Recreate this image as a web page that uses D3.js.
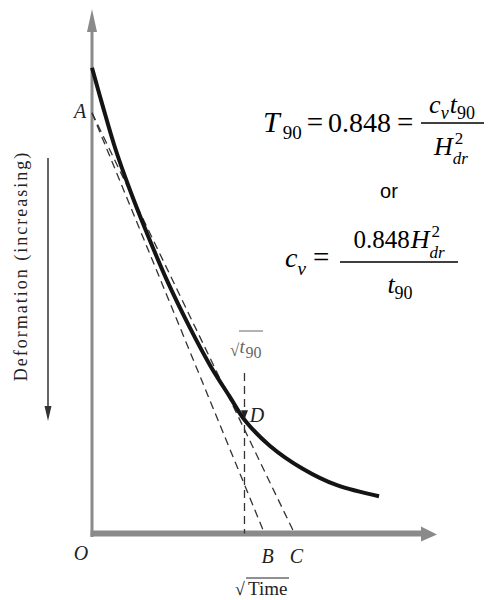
<!DOCTYPE html>
<html>
<head>
<meta charset="utf-8">
<script src="https://cdn.jsdelivr.net/npm/d3@7"></script>
<style>
  body { margin: 0; background: #fff; }
  svg { display: block; }
</style>
</head>
<body>
<svg id="chart" width="488" height="600"></svg>
<script>
// values (sqrt(time) to the right, deformation increasing downward)
const sqrtTime    = [0, 0.32, 0.67, 1.10, 1.59, 2.17, 2.84, 3.42, 4.00, 4.43, 5.16, 6.12, 7.10, 8.32];
const deformation = [1.12, 1.87, 2.65, 3.45, 4.27, 5.17, 6.08, 6.79, 7.40, 7.84, 8.33, 8.77, 9.08, 9.29];
const pointA = 1.98;      // intercept on the deformation axis
const pointB = 5.0;       // straight line through the early part
const pointC = 5.87;      // about 1.15 x OB
const sqrtT90 = 4.42;
const pointD = 7.84;
const t90LineTop = 6.94;

const SERIF = '"Liberation Serif", "Times New Roman", serif';
const svg = d3.select('#chart');
const xScale = d3.scaleLinear().domain([0, 10]).range([92, 437]);
const yScale = d3.scaleLinear().domain([0, 10]).range([9, 533.5]);

const axisColor = '#8a8a8a';

// axes (no ticks), with arrow heads
svg.append('line')
    .attr('x1', xScale(0)).attr('y1', yScale(10) + 3.5)
    .attr('x2', xScale(0)).attr('y2', yScale(0) + 10)
    .attr('stroke', axisColor).attr('stroke-width', 3);
svg.append('path')
    .attr('d', `M${xScale(0)},${yScale(0)} L${xScale(0) - 5},${yScale(0) + 23} L${xScale(0) + 5},${yScale(0) + 23} Z`)
    .attr('fill', axisColor);

svg.append('line')
    .attr('x1', xScale(0) - 1.5).attr('y1', yScale(10))
    .attr('x2', xScale(10) - 14).attr('y2', yScale(10))
    .attr('stroke', axisColor).attr('stroke-width', 6);
svg.append('path')
    .attr('d', `M${xScale(10)},${yScale(10) + 1} L${xScale(10) - 16},${yScale(10) - 7} L${xScale(10) - 16},${yScale(10) + 8} Z`)
    .attr('fill', axisColor);

// construction lines A-B, A-C and the sqrt(t90) line
const dashed = g => g.attr('fill', 'none').attr('stroke', '#333')
    .attr('stroke-width', 1.3).attr('stroke-dasharray', '8,5');

svg.append('line').call(dashed)
    .attr('x1', xScale(0)).attr('y1', yScale(pointA))
    .attr('x2', xScale(pointB)).attr('y2', yScale(10));
svg.append('line').call(dashed)
    .attr('x1', xScale(0)).attr('y1', yScale(pointA))
    .attr('x2', xScale(pointC)).attr('y2', yScale(10));
svg.append('line').call(dashed)
    .attr('x1', xScale(sqrtT90)).attr('y1', yScale(t90LineTop))
    .attr('x2', xScale(sqrtT90)).attr('y2', yScale(10));

// the consolidation curve
const pts = sqrtTime.map((t, i) => [t, deformation[i]]);
const line = d3.line()
    .x(d => xScale(d[0]))
    .y(d => yScale(d[1]))
    .curve(d3.curveCatmullRom.alpha(0.5));
svg.append('path')
    .datum(pts)
    .attr('d', line)
    .attr('fill', 'none')
    .attr('stroke', '#141414')
    .attr('stroke-width', 4);

// arrow head pointing at D
const dx = xScale(sqrtT90), dy = yScale(pointD) - 1;
svg.append('path')
    .attr('d', `M${dx},${dy} L${dx - 3.5},${dy - 9} L${dx + 3.5},${dy - 9} Z`)
    .attr('fill', '#222');

// point labels
const label = (txt, x, y) => svg.append('text')
    .attr('x', x).attr('y', y)
    .attr('text-anchor', 'middle')
    .style('font-family', SERIF)
    .style('font-style', 'italic')
    .style('font-size', '20px')
    .style('fill', '#222')
    .text(txt);
label('A', 80, 118);
label('O', 81, 560);
label('B', xScale(pointB) + 3, 563);
label('C', xScale(pointC) + 2, 563);
label('D', 257, 422);

// sqrt(Time)
svg.append('text')
    .attr('x', 235).attr('y', 595)
    .style('font-family', SERIF)
    .style('font-size', '18px').style('fill', '#222')
    .text('√');
svg.append('line')
    .attr('x1', 246).attr('x2', 289).attr('y1', 578).attr('y2', 578)
    .attr('stroke', '#222').attr('stroke-width', 1);
svg.append('text')
    .attr('x', 248).attr('y', 595)
    .style('font-family', SERIF)
    .style('font-size', '19px').style('fill', '#222')
    .text('Time');

// sqrt(t90)
svg.append('text')
    .attr('x', 230).attr('y', 356)
    .style('font-family', SERIF)
    .style('font-size', '17px').style('fill', '#666')
    .text('√');
svg.append('line')
    .attr('x1', 239).attr('x2', 263).attr('y1', 331).attr('y2', 331)
    .attr('stroke', '#666').attr('stroke-width', 1);
svg.append('text')
    .attr('x', 239.5).attr('y', 353)
    .style('font-family', SERIF)
    .style('font-size', '19px').style('font-style', 'italic').style('fill', '#666')
    .text('t');
svg.append('text')
    .attr('x', 245.5).attr('y', 358)
    .style('font-family', SERIF)
    .style('font-size', '16px').style('fill', '#666')
    .text('90');

// y axis label and its arrow
svg.append('text')
    .attr('transform', 'translate(27,266) rotate(-90)')
    .attr('text-anchor', 'middle')
    .style('font-family', SERIF)
    .style('font-size', '18px')
    .style('letter-spacing', '2px')
    .style('fill', '#222')
    .text('Deformation (increasing)');
svg.append('line')
    .attr('x1', 48).attr('x2', 48).attr('y1', 158).attr('y2', 410)
    .attr('stroke', '#333').attr('stroke-width', 1.5);
svg.append('path')
    .attr('d', 'M48,421 L44.5,406 L51.5,406 Z')
    .attr('fill', '#333');

// formulas: pieces flow left to right, measured with the real font
// piece: [text, size, italic, baseline shift, gap before, stacked]
function mathRow(pieces) {
    const g = svg.append('g');
    let cx = 0;
    pieces.forEach(([txt, size, italic, shift, gap, stacked]) => {
        const t = g.append('text')
            .attr('x', cx + (gap || 0)).attr('y', shift || 0)
            .style('font-family', SERIF)
            .style('font-size', size + 'px')
            .style('font-style', italic ? 'italic' : 'normal')
            .style('fill', '#000')
            .text(txt);
        if (!stacked) cx += (gap || 0) + t.node().getComputedTextLength();
    });
    return { g, width: cx };
}
function placeLeft(row, x, y) { row.g.attr('transform', `translate(${x},${y})`); }
function placeCenter(row, x, y) { row.g.attr('transform', `translate(${x - row.width / 2},${y})`); }
const bar = (x1, x2, y) => svg.append('line')
    .attr('x1', x1).attr('x2', x2).attr('y1', y).attr('y2', y)
    .attr('stroke', '#000').attr('stroke-width', 1.4);

// T90 = 0.848 = cv t90 / H^2 dr
placeLeft(mathRow([
    ['T', 30, true],
    ['90', 19, false, 7, 3],
    ['=', 29, false, 0, 5],
    ['0.848', 28, false, 0, 5],
    ['=', 29, false, 0, 6]
]), 263, 132);
placeCenter(mathRow([
    ['c', 26, true],
    ['v', 18, true, 6, 0],
    ['t', 26, true, 0, 1],
    ['90', 18, false, 6, 0]
]), 452, 113);
bar(421, 484, 123);
placeCenter(mathRow([
    ['H', 26, true],
    ['2', 17, false, -11, 2, true],
    ['dr', 17, true, 9, 0]
]), 451, 155);

// or
svg.append('text')
    .attr('x', 389).attr('y', 198)
    .attr('text-anchor', 'middle')
    .style('font-family', '"Liberation Sans", Arial, sans-serif')
    .style('font-size', '20px')
    .style('fill', '#000')
    .text('or');

// cv = 0.848 H^2 dr / t90
placeLeft(mathRow([
    ['c', 28, true],
    ['v', 19, true, 8, 0],
    ['=', 29, false, 0, 7]
]), 285, 267);
placeCenter(mathRow([
    ['0.848', 25, false],
    ['H', 26, true, 0, 1],
    ['2', 17, false, -11, 2, true],
    ['dr', 17, true, 10, 0]
]), 399, 248);
bar(340, 458, 262);
placeCenter(mathRow([
    ['t', 26, true],
    ['90', 18, false, 6, 0]
]), 400, 293);
</script>
</body>
</html>
